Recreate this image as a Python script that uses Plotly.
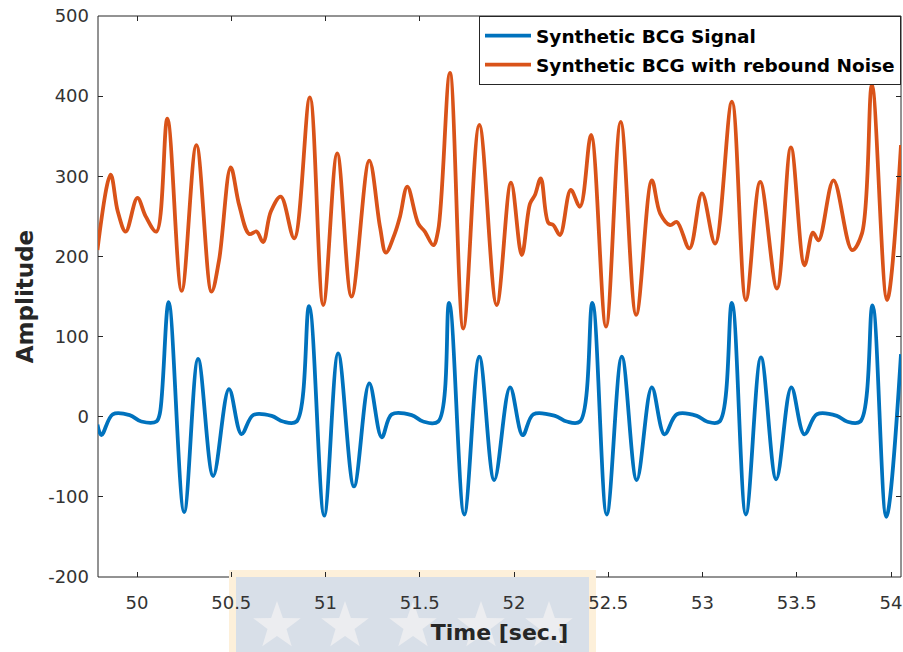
import math
import plotly.graph_objects as go

# ---------------- data ----------------
bcg_time = [49.79, 49.811, 49.871, 49.961, 50.023, 50.103, 50.121, 50.168, 50.250, 50.324,
            50.404, 50.488, 50.554, 50.616, 50.714, 50.775, 50.846, 50.913, 50.993, 51.067,
            51.151, 51.232, 51.298, 51.351, 51.457, 51.518, 51.598, 51.656, 51.736, 51.816,
            51.895, 51.979, 52.046, 52.102, 52.218, 52.280, 52.350, 52.416, 52.492, 52.572,
            52.651, 52.731, 52.798, 52.864, 52.970, 53.023, 53.090, 53.156, 53.230, 53.310,
            53.391, 53.471, 53.540, 53.607, 53.713, 53.766, 53.837, 53.902, 53.975, 54.053]
bcg_amp = [-10, -23, 3, 2, -6, -6, 4, 143, -119, 72,
           -74, 34.5, -21.6, 2, 1, -6, -6, 138, -123.5, 79,
           -87, 41.6, -25.7, 3, 2, -6, -6, 142, -122, 75,
           -79, 36.7, -23, 3, 1, -6, -6, 142, -122, 75,
           -79, 36.7, -22, 3, 1, -6, -6, 142, -122, 74,
           -78, 36.7, -22, 3, 1, -6, -6, 139, -125, 78]

noisy_time = [49.790, 49.860, 49.898, 49.940, 50.002, 50.046, 50.103, 50.161, 50.237, 50.315,
              50.395, 50.435, 50.497, 50.542, 50.595, 50.634, 50.669, 50.710, 50.763, 50.834,
              50.917, 50.988, 51.062, 51.138, 51.232, 51.289, 51.320, 51.368, 51.395, 51.434,
              51.492, 51.527, 51.572, 51.598, 51.660, 51.731, 51.816, 51.908, 51.984, 52.041,
              52.085, 52.111, 52.142, 52.182, 52.209, 52.244, 52.301, 52.350, 52.409, 52.488,
              52.566, 52.648, 52.731, 52.775, 52.828, 52.864, 52.931, 52.997, 53.067, 53.156,
              53.230, 53.306, 53.395, 53.469, 53.541, 53.586, 53.616, 53.695, 53.793, 53.846,
              53.899, 53.979, 54.053]
noisy_amp = [208, 302, 256, 231, 273, 250, 231, 372, 157, 339,
             156, 195, 311, 264, 228, 231, 218, 256, 274.6, 222.6,
             398.5, 139.4, 328.7, 149.8, 319.5, 237, 204.7, 228.8, 249.6, 287,
             241, 231, 214, 233, 429, 110, 364, 139.4, 292, 201.8,
             266, 276.6, 297.5, 242, 239, 226.7, 283, 262, 351.5, 112.3,
             368, 127, 295, 253.8, 239, 243, 210, 278.8, 216, 393,
             145.6, 293, 160, 336, 189, 229.6, 220, 295, 208, 228.8,
             414, 145.6, 339]

x_tick_vals = [50, 50.5, 51, 51.5, 52, 52.5, 53, 53.5, 54]
x_tick_text = ["50", "50.5", "51", "51.5", "52", "52.5", "53", "53.5", "54"]
y_tick_vals = [-200, -100, 0, 100, 200, 300, 400, 500]
y_tick_text = ["-200", "-100", "0", "100", "200", "300", "400", "500"]

series_names = ["Synthetic BCG Signal", "Synthetic BCG with rebound Noise"]
series_colors = ["#0072BD", "#D95319"]

# ---------------- figure ----------------
W, H = 903, 652
L, R, T, B = 98, 2, 16, 75
FONT = "DejaVu Sans"
AX = "#262626"

fig = go.Figure()
fig.add_trace(go.Scatter(x=bcg_time, y=bcg_amp, mode="lines", name=series_names[0],
                         legendgroup="a",
                         line=dict(color=series_colors[0], width=3.8, shape="spline", smoothing=1)))
fig.add_trace(go.Scatter(x=noisy_time, y=noisy_amp, mode="lines", name=series_names[1],
                         legendgroup="b",
                         line=dict(color=series_colors[1], width=3.8, shape="spline", smoothing=1)))

# helpers for decoration in page pixels -> paper coordinates
pw = W - L - R
ph = H - T - B
def px(x):
    return (x - L) / pw
def py(y):
    return (H - B - y) / ph

shapes = []
# axes box
shapes.append(dict(type="rect", xref="paper", yref="paper", x0=0, x1=1, y0=0, y1=1,
                   line=dict(color=AX, width=1), fillcolor="rgba(0,0,0,0)", layer="below"))
# watermark
shapes.append(dict(type="rect", xref="paper", yref="paper", x0=px(229), x1=px(596),
                   y0=py(652), y1=py(570), line=dict(width=0), fillcolor="#FDF0DA", layer="below"))
shapes.append(dict(type="rect", xref="paper", yref="paper", x0=px(236), x1=px(589),
                   y0=py(652), y1=py(577), line=dict(width=0), fillcolor="#D8DFE8", layer="below"))

def star_path(cx, cy, r_out, r_in):
    pts = []
    for k in range(10):
        ang = -math.pi / 2 + k * math.pi / 5
        r = r_out if k % 2 == 0 else r_in
        pts.append((px(cx + r * math.cos(ang)), py(cy + r * math.sin(ang))))
    return "M " + " L ".join(f"{a:.5f},{b:.5f}" for a, b in pts) + " Z"

for cx in [277, 345, 413, 481, 549]:
    shapes.append(dict(type="path", xref="paper", yref="paper", path=star_path(cx, 626, 25, 10),
                       line=dict(width=0), fillcolor="#ECEDF0", layer="below"))

fig.update_layout(
    width=W, height=H,
    margin=dict(l=L, r=R, t=T, b=B, pad=0),
    paper_bgcolor="white",
    plot_bgcolor="rgba(0,0,0,0)",
    shapes=shapes,
    showlegend=True,
    legend=dict(x=1, y=1, xanchor="right", yanchor="top",
                bgcolor="white", bordercolor=AX, borderwidth=1,
                font=dict(family=FONT, size=18.5, color="black", weight="bold"),
                itemwidth=46, tracegroupgap=2),
    xaxis=dict(range=[49.793, 54.053], tickvals=x_tick_vals, ticktext=x_tick_text,
               ticks="inside", ticklen=5, tickcolor=AX, mirror="ticks", showline=False,
               showgrid=False, zeroline=False,
               tickfont=dict(family=FONT, size=18, color="#333333"), ticklabelstandoff=13,
               title=dict(text="Time [sec.]", standoff=12,
                          font=dict(family=FONT, size=22, color=AX, weight="bold"))),
    yaxis=dict(range=[-200, 500], tickvals=y_tick_vals, ticktext=y_tick_text,
               ticks="inside", ticklen=5, tickcolor=AX, mirror="ticks", showline=False,
               showgrid=False, zeroline=False,
               tickfont=dict(family=FONT, size=18, color="#333333"), ticklabelstandoff=8,
               title=dict(text="Amplitude", standoff=8,
                          font=dict(family=FONT, size=23, color=AX, weight="bold"))),
)

fig.write_html("out.html")
